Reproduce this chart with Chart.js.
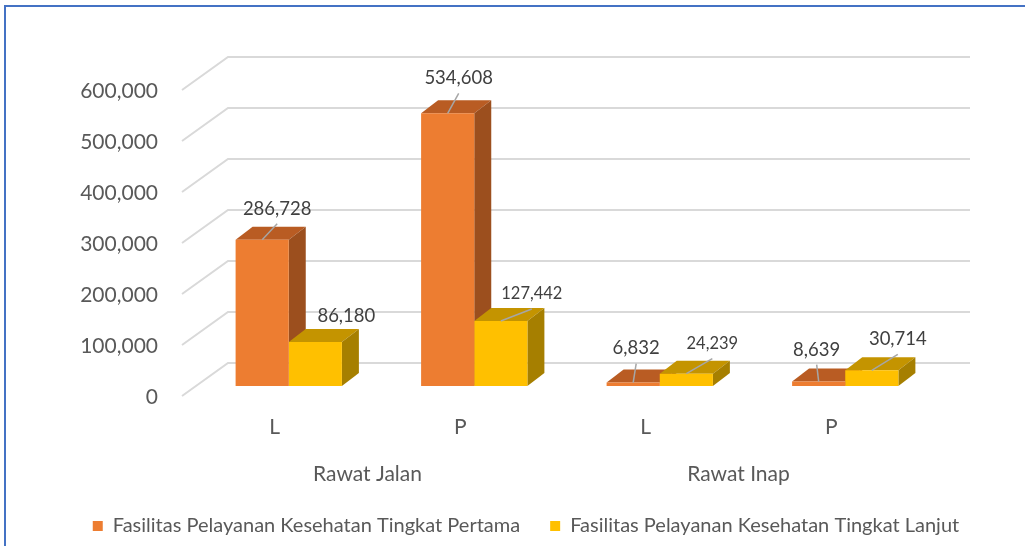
<!DOCTYPE html>
<html>
<head>
<meta charset="utf-8">
<script src="https://cdn.jsdelivr.net/npm/chart.js@4.4.1/dist/chart.umd.min.js"></script>
<style>
  html, body { margin: 0; padding: 0; background: #fff; overflow: hidden; }
  #frame { position: absolute; left: 4px; top: 5px; width: 1100px; height: 600px; border: 2px solid #4472c4; box-sizing: border-box; }
  #wrap { position: absolute; left: 0; top: 0; width: 1025px; height: 546px; }
</style>
</head>
<body>
<div id="frame"></div>
<div id="wrap"><canvas id="chart" width="1025" height="546"></canvas></div>
<script>
// data
const subLabels = ["L", "P", "L", "P"];
const groupLabels = ["Rawat Jalan", "Rawat Inap"];
const seriesNames = [
  "Fasilitas Pelayanan Kesehatan Tingkat Pertama",
  "Fasilitas Pelayanan Kesehatan Tingkat Lanjut"
];
const pertama = [286728, 534608, 6832, 8639];
const lanjut = [86180, 127442, 24239, 30714];
const yMax = 600000;
const yStep = 100000;

// style
const faces = [
  { front: "#ed7d31", top: "#b95c23", side: "#9c4f1e" },
  { front: "#ffc000", top: "#c49400", side: "#a67f00" }
];
const BAR_DEPTH = { x: 17, y: -13 };
const WALL_BACK = { x: 32, y: -23 };
const WALL_FRONT = { x: -14, y: 10 };
// label centre offset from the bar's top-front centre, [dataset][index]
const labelPos = [
  [[15, -31], [11, -35], [3, -34], [-2, -32]],
  [[31, -26], [31, -27], [26, -30], [26, -31]]
];
const labelSize = [[18.5, 18.5, 18.5, 18.5], [18.5, 16.5, 16.5, 18.5]];
const leader = [[true, true, true, true], [false, true, true, true]];

Chart.defaults.font.family = "Lato, 'Open Sans', sans-serif";

function poly(ctx, pts, color) {
  ctx.beginPath();
  ctx.moveTo(pts[0][0], pts[0][1]);
  for (let i = 1; i < pts.length; i++) ctx.lineTo(pts[i][0], pts[i][1]);
  ctx.closePath();
  ctx.fillStyle = color;
  ctx.fill();
}

const threeD = {
  id: "threeD",
  beforeDatasetsDraw(chart) {
    const { ctx, chartArea, scales } = chart;
    const y = scales.y;
    ctx.save();
    // back wall grid and left wall diagonals
    ctx.strokeStyle = "#d9d9d9";
    ctx.lineWidth = 2;
    for (let v = 0; v <= yMax; v += yStep) {
      const py = y.getPixelForValue(v);
      ctx.beginPath();
      ctx.moveTo(chartArea.left + WALL_FRONT.x, py + WALL_FRONT.y);
      ctx.lineTo(chartArea.left + WALL_BACK.x, py + WALL_BACK.y);
      ctx.lineTo(chartArea.right + WALL_BACK.x, py + WALL_BACK.y);
      ctx.stroke();
    }
    // top and side faces of the bars
    const n = chart.data.labels.length;
    for (let i = 0; i < n; i++) {
      chart.data.datasets.forEach((ds, d) => {
        const bar = chart.getDatasetMeta(d).data[i];
        const { x, y: top, base, width } = bar.getProps(["x", "y", "base", "width"], true);
        const l = x - width / 2, r = x + width / 2;
        const dx = BAR_DEPTH.x, dy = BAR_DEPTH.y;
        poly(ctx, [[l, top], [r, top], [r + dx, top + dy], [l + dx, top + dy]], faces[d].top);
        poly(ctx, [[r, top], [r + dx, top + dy], [r + dx, base + dy], [r, base]], faces[d].side);
      });
    }
    ctx.restore();
  },
  afterDatasetsDraw(chart) {
    const { ctx } = chart;
    ctx.save();
    ctx.textAlign = "center";
    ctx.textBaseline = "middle";
    chart.data.datasets.forEach((ds, d) => {
      chart.getDatasetMeta(d).data.forEach((bar, i) => {
        const { x, y } = bar.getProps(["x", "y"], true);
        const lx = x + labelPos[d][i][0];
        const ly = y + labelPos[d][i][1];
        if (leader[d][i]) {
          ctx.strokeStyle = "#a6a6a6";
          ctx.lineWidth = 1.5;
          ctx.beginPath();
          ctx.moveTo(x, y);
          ctx.lineTo(lx, ly + 15);
          ctx.stroke();
        }
        ctx.fillStyle = "#404040";
        ctx.font = labelSize[d][i] + "px Lato, 'Open Sans', sans-serif";
        ctx.fillText(ds.data[i].toLocaleString("en-US"), lx, ly);
      });
    });
    ctx.restore();
  }
};

new Chart(document.getElementById("chart"), {
  type: "bar",
  data: {
    labels: subLabels,
    datasets: [
      { label: seriesNames[0], data: pertama, backgroundColor: faces[0].front },
      { label: seriesNames[1], data: lanjut, backgroundColor: faces[1].front }
    ]
  },
  options: {
    responsive: false,
    animation: false,
    devicePixelRatio: 1,
    layout: { padding: { left: 27, right: 0, top: 80, bottom: 0 } },
    datasets: { bar: { barPercentage: 1, categoryPercentage: 0.573, borderWidth: 0 } },
    plugins: {
      tooltip: { enabled: false },
      legend: {
        position: "bottom",
        labels: {
          boxWidth: 10,
          boxHeight: 10,
          padding: 30,
          color: "#595959",
          font: { size: 20 }
        }
      }
    },
    scales: {
      y: {
        min: 0,
        max: yMax,
        grid: { display: false, drawTicks: false },
        border: { display: false },
        ticks: {
          stepSize: yStep,
          padding: 38,
          labelOffset: 11,
          color: "#595959",
          font: { size: 21 },
          callback: (v) => v.toLocaleString("en-US")
        },
        afterFit: (s) => { s.width = 169; }
      },
      yRight: {
        type: "linear",
        position: "right",
        grid: { display: false, drawTicks: false },
        border: { display: false },
        ticks: { display: false },
        afterFit: (s) => { s.width = 87; }
      },
      x: {
        offset: true,
        weight: 0,
        grid: { display: false, drawTicks: false },
        border: { display: false },
        ticks: { padding: 29, labelOffset: -14, color: "#595959", font: { size: 21 } },
        afterFit: (s) => { s.height = 48; }
      },
      x2: {
        type: "category",
        labels: groupLabels,
        position: "bottom",
        offset: true,
        weight: 1,
        grid: { display: false, drawTicks: false },
        border: { display: false },
        ticks: { padding: 28, labelOffset: -14, color: "#595959", font: { size: 21 } },
        afterFit: (s) => { s.height = 52; }
      }
    }
  },
  plugins: [threeD]
});
</script>
</body>
</html>
